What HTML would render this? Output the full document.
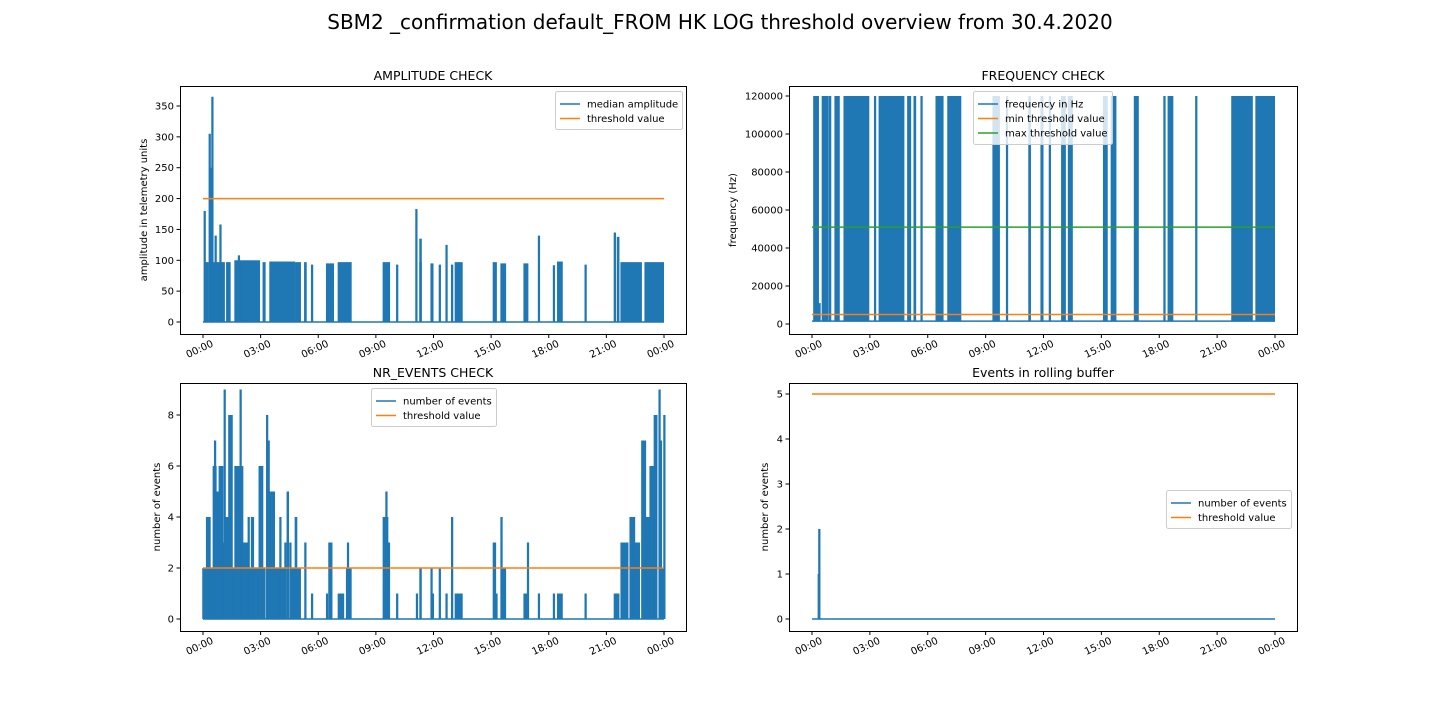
<!DOCTYPE html>
<html><head><meta charset="utf-8"><style>
body{margin:0;background:#fff;}
svg{display:block;font-family:"DejaVu Sans","Liberation Sans",sans-serif;}
</style></head><body>
<svg id="fig" width="1440" height="720" viewBox="0 0 1440 720" xmlns="http://www.w3.org/2000/svg">
<rect width="1440" height="720" fill="#fff"/>
<text x="720" y="29" text-anchor="middle" font-size="20" fill="#000">SBM2 _confirmation default_FROM HK LOG threshold overview from 30.4.2020</text>
</svg>
<script>
// x tick labels (hours)
const xTickHours = [0,3,6,9,12,15,18,21,24];
const xTickLabels = ["00:00","03:00","06:00","09:00","12:00","15:00","18:00","21:00","00:00"];

// Amplitude: segments [startHour, endHour, value]
const ampSegments = [[0.07,0.07,180],[0.14,0.30,97],[0.33,0.38,305],[0.40,0.45,250],[0.47,0.54,365],[0.64,0.64,140],[0.89,0.89,158],
[0.54,0.87,97],[0.99,1.14,97],[1.24,1.44,97],[1.67,2.97,100],[1.85,1.85,108],[3.14,3.26,97],[3.49,4.79,98],[4.83,5.10,97],[5.30,5.40,97],[5.66,5.66,93],
[6.44,6.82,95],[7.05,7.74,97],[9.39,9.74,97],[10.09,10.09,93],[11.09,11.16,183],[11.30,11.39,135],[11.30,11.39,97],[11.88,12.0,95],[12.31,12.31,93],
[12.66,12.66,125],[12.95,12.95,93],[13.14,13.52,97],[15.12,15.30,97],[15.52,15.78,95],[16.72,16.94,95],[17.47,17.47,140],[18.25,18.25,92],
[18.47,18.73,98],[19.90,19.90,93],[21.42,21.50,145],[21.58,21.68,138],[21.77,22.85,97],[23.02,24.0,97]];
const ampTicks = [0,50,100,150,200,250,300,350];
const ampThreshold = [200];

// Frequency
const freqSegments = [[0.10,0.36,120000],[0.54,0.85,120000],[0.90,1.0,120000],[1.20,1.44,120000],[1.67,2.97,120000],[3.25,3.32,120000],[3.49,4.79,120000],
[4.97,5.14,120000],[5.30,5.40,120000],[5.66,5.66,120000],[6.44,6.82,120000],[7.05,7.74,120000],[9.39,9.74,120000],[10.09,10.09,120000],
[11.25,11.35,120000],[11.88,12.0,120000],[12.31,12.31,120000],[12.95,13.16,120000],[13.30,13.52,120000],[15.12,15.33,120000],[15.52,15.78,120000],
[16.72,16.94,120000],[18.25,18.33,120000],[18.47,18.73,120000],[19.90,19.90,120000],[21.77,22.85,120000],[23.02,24.0,120000],[0.19,0.45,11000]];
const freqBaseline = [1500];
const freqTicks = [0,20000,40000,60000,80000,100000,120000];
const freqMin = [5000];
const freqMax = [51000];

// Nr events
const nrSegments = [[0.0,0.19,2],[0.19,0.40,4],[0.40,0.54,2],[0.54,0.71,6],[0.61,0.61,7],[0.71,0.85,5],[0.85,1.06,6],[1.06,1.11,3],[1.11,1.18,9],[1.18,1.35,4],
[1.35,1.55,8],[1.55,1.67,2],[1.67,1.90,6],[1.94,1.94,9],[2.01,2.10,6],[2.10,2.36,3],[2.36,2.36,4],[2.40,2.53,2],[2.53,2.66,4],[2.66,2.93,2],[2.93,3.14,6],
[3.14,3.26,2],[3.32,3.32,8],[3.40,3.40,7],[3.49,3.75,5],[3.75,4.01,2],[4.01,4.01,4],[4.05,4.27,2],[4.27,4.27,3],[4.39,4.48,5],[4.53,4.53,3],[4.55,4.79,2],
[4.81,4.91,4],[4.91,5.10,2],[5.31,5.31,3],[5.66,5.66,1],[6.44,6.44,1],[6.56,6.74,3],[7.05,7.05,1],[7.15,7.15,1],[7.25,7.35,1],[7.48,7.74,2],[7.53,7.53,3],
[9.39,9.65,4],[9.53,9.53,5],[9.65,9.74,3],[10.09,10.09,1],[11.12,11.12,1],[11.30,11.39,2],[11.88,11.88,2],[11.95,12.0,1],[12.31,12.31,2],[12.66,12.66,1],
[12.95,12.95,4],[13.14,13.52,1],[15.12,15.26,3],[15.26,15.30,1],[15.52,15.60,4],[15.60,15.78,2],[16.72,16.88,1],[16.90,16.90,3],[17.47,17.47,1],
[18.25,18.25,1],[18.47,18.73,1],[19.90,19.90,1],[21.42,21.68,1],[21.77,22.15,3],[22.24,22.50,4],[22.50,22.75,3],[22.85,23.07,7],[23.07,23.28,4],
[23.28,23.60,6],[23.50,23.66,8],[23.75,23.75,9],[23.80,23.90,7],[23.90,23.98,2],[24.0,24.0,8]];
const nrTicks = [0,2,4,6,8];
const nrThreshold = [2];

// Rolling buffer
const rbSegments = [[0.36,0.40,2],[0.33,0.36,1]];
const rbTicks = [0,1,2,3,4,5];
const rbThreshold = [5];

const svg = document.getElementById('fig');
const NS = 'http://www.w3.org/2000/svg';
function el(tag, attrs, parent){const e=document.createElementNS(NS,tag);for(const k in attrs)e.setAttribute(k,attrs[k]);(parent||svg).appendChild(e);return e;}

function panel(cfg){
  const g = el('g',{});
  
  
  const L=cfg.x0,R=cfg.x1,T=cfg.y0,B=cfg.y1;
  const hx0=L+23, hx1=R-22;
  const X = h => hx0 + h*(hx1-hx0)/24;
  const Y = v => cfg.yZero - v*(cfg.yZero-cfg.yTop)/cfg.ymax;
  // title
  const t = el('text',{x:(L+R)/2,y:T-6,'text-anchor':'middle','font-size':12.5,fill:'#000'},g);
  t.textContent = cfg.title;
  
  
  // y label
  const yl = el('text',{x:0,y:0,'text-anchor':'middle','font-size':10,fill:'#000',transform:`translate(${cfg.ylx},${(T+B)/2}) rotate(-90)`},g);
  yl.textContent = cfg.ylabel;
  
  
  // baseline
  const base = cfg.base || 0;
  const bl = el('line',{x1:X(0),x2:X(24),y1:Y(base),y2:Y(base),stroke:'#1f77b4','stroke-width':1.5},g);
  
  
  // segments
  cfg.segs.forEach(s=>{
    const xa=X(s[0]), xb=Math.max(X(s[1]), xa+1.5);
    const r = el('rect',{x:xa-0.75,y:Y(s[2]),width:xb-xa+0.75,height:Math.max(0,Y(base)-Y(s[2])),fill:'#1f77b4'},g);
    
    
  });
  // threshold lines
  cfg.lines.forEach(ln=>{
    const l = el('line',{x1:X(0),x2:X(24),y1:Y(ln.v[0]),y2:Y(ln.v[0]),stroke:ln.c,'stroke-width':1.5},g);
    
    
  });
  // frame
  const f = el('rect',{x:L+0.5,y:T+0.5,width:R-L,height:B-T,fill:'none',stroke:'#000','stroke-width':1},g);
  
  
  // y ticks
  cfg.yticks.forEach(v=>{
    const y=Y(v);
    el('line',{x1:L-3.5,x2:L,y1:y,y2:y,stroke:'#000','stroke-width':1},g);
    const tt=el('text',{x:L-6,y:y+3.5,'text-anchor':'end','font-size':10,fill:'#000'},g);
    tt.textContent=String(v);
    
    
  });
  // x ticks
  xTickHours.forEach((h,i)=>{
    const x=X(h);
    el('line',{x1:x,x2:x,y1:B+0.5,y2:B+4,stroke:'#000','stroke-width':1},g);
    const tt=el('text',{x:0,y:0,'text-anchor':'middle','font-size':10,fill:'#000',transform:`translate(${x-2},${B+18}) rotate(-25)`},g);
    tt.textContent=xTickLabels[i];
    
    
  });
  // legend
  const lg = cfg.legend;
  const lb = el('rect',{x:lg.x+0.5,y:lg.y+0.5,width:lg.w,height:8+lg.items.length*15,fill:'#fff','fill-opacity':0.8,stroke:'#ccc','stroke-width':1,rx:2},g);
  
  
  lg.items.forEach((it,i)=>{
    const yy=lg.y+13+i*14.5;
    el('line',{x1:lg.x+5,x2:lg.x+25,y1:yy,y2:yy,stroke:it[1],'stroke-width':1.5},g);
    const tt=el('text',{x:lg.x+32,y:yy+3.5,'font-size':10,fill:'#000'},g);
    tt.textContent=it[0];
    
    
  });
}

panel({name:'amplitude-check-panel',title:'AMPLITUDE CHECK',ylabel:'amplitude in telemetry units',ylx:147,
 x0:180,x1:686,y0:86,y1:334,yZero:322,yTop:106,ymax:350,segs:ampSegments,yticks:ampTicks,
 lines:[{v:ampThreshold,c:'#ff7f0e',name:'threshold-line'}],
 legend:{x:555,y:91,w:127,items:[['median amplitude','#1f77b4'],['threshold value','#ff7f0e']]}});
panel({name:'frequency-check-panel',title:'FREQUENCY CHECK',ylabel:'frequency (Hz)',ylx:736,
 x0:789,x1:1297,y0:86,y1:334,yZero:324,yTop:96,ymax:120000,segs:freqSegments,base:freqBaseline[0],yticks:freqTicks,
 lines:[{v:freqMin,c:'#ff7f0e',name:'min-threshold-line'},{v:freqMax,c:'#2ca02c',name:'max-threshold-line'}],
 legend:{x:973,y:91,w:139,items:[['frequency in Hz','#1f77b4'],['min threshold value','#ff7f0e'],['max threshold value','#2ca02c']]}});
panel({name:'nr-events-check-panel',title:'NR_EVENTS CHECK',ylabel:'number of events',ylx:160,
 x0:180,x1:686,y0:383,y1:631,yZero:619,yTop:415,ymax:8,segs:nrSegments,yticks:nrTicks,
 lines:[{v:nrThreshold,c:'#ff7f0e',name:'threshold-line'}],
 legend:{x:371,y:388,w:125,items:[['number of events','#1f77b4'],['threshold value','#ff7f0e']]}});
panel({name:'rolling-buffer-panel',title:'Events in rolling buffer',ylabel:'number of events',ylx:768,
 x0:789,x1:1297,y0:383,y1:631,yZero:619,yTop:394,ymax:5,segs:rbSegments,yticks:rbTicks,
 lines:[{v:rbThreshold,c:'#ff7f0e',name:'threshold-line'}],
 legend:{x:1166,y:490,w:125,items:[['number of events','#1f77b4'],['threshold value','#ff7f0e']]}});
</script>
</body></html>
